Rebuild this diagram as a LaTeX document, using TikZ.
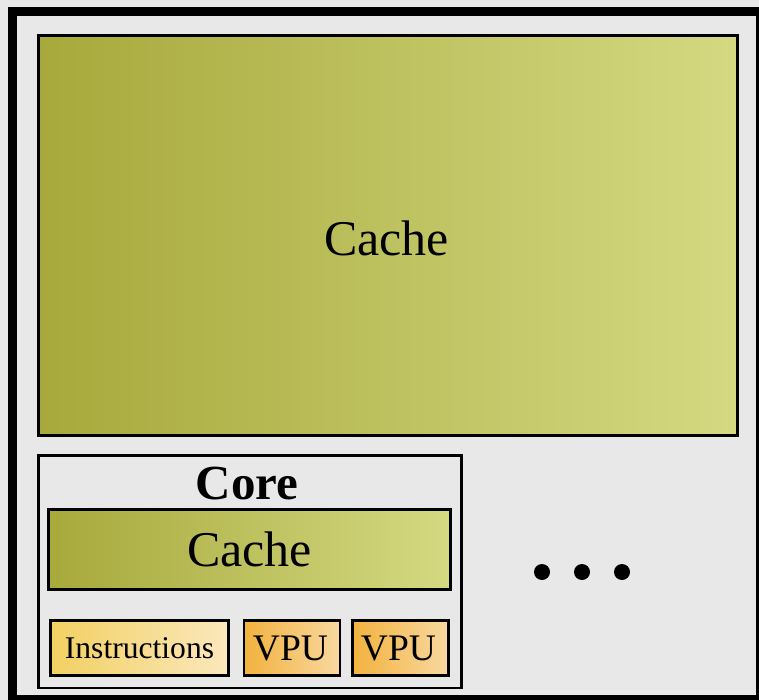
\documentclass[tikz,border=0pt]{standalone}
\usepackage{fontspec}
\setmainfont{Liberation Serif}
\definecolor{bggrey}{HTML}{E8E8E8}
\definecolor{cacheL}{HTML}{A7A93B}
\definecolor{cacheR}{HTML}{D4D982}
\definecolor{instL}{HTML}{F2D062}
\definecolor{instR}{HTML}{FBE8BC}
\definecolor{vpuL}{HTML}{F2B23E}
\definecolor{vpuR}{HTML}{F9D8A0}
\tikzset{
  cachebox/.style={draw=black, line width=2.8pt, left color=cacheL, right color=cacheR, inner sep=0pt, font=\fontsize{50}{56}\selectfont},
  instbox/.style={draw=black, line width=2.8pt, left color=instL, right color=instR, inner sep=0pt, font=\fontsize{31.6}{36}\selectfont},
  vpubox/.style={draw=black, line width=2.8pt, left color=vpuL, right color=vpuR, inner sep=0pt, font=\fontsize{37.5}{42}\selectfont},
  corebox/.style={draw=black, line width=2.5pt, fill=bggrey, inner sep=0pt},
}
\begin{document}
\begin{tikzpicture}[x=1pt,y=-1pt]
\useasboundingbox (0,0) rectangle (759,700);
\clip (0,0) rectangle (759,700);
\fill[bggrey] (0,0) rectangle (759,700);
\draw[line width=9pt] (12.5,11.5) rectangle (760.5,699.5);
\node[cachebox, minimum width=699pt, minimum height=400pt] (bigcache) at (387.75,235.5) {};
\node[font=\fontsize{50}{56}\selectfont] (bigcachetext) at (386.5,238) {Cache};
\node[corebox, minimum width=423pt, minimum height=232.5pt] (core) at (249.75,571.5) {};
\node[font=\bfseries\fontsize{49}{55}\selectfont, inner sep=0pt, anchor=base] (coretext) at (247,499) {Core};
\node[cachebox, minimum width=402pt, minimum height=80pt] (corecache) at (249.5,549.5) {Cache};
\node[instbox, minimum width=178pt, minimum height=55pt] (instr) at (139.5,648) {Instructions};
\node[vpubox, minimum width=96pt, minimum height=55pt] (vpu1) at (292,648) {};
\node[vpubox, minimum width=96pt, minimum height=55pt] (vpu2) at (400.5,648) {};
\node[font=\fontsize{37.5}{42}\selectfont, inner sep=0pt] (vpu1text) at (290.5,648) {VPU};
\node[font=\fontsize{37.5}{42}\selectfont, inner sep=0pt] (vpu2text) at (398.5,648) {VPU};
\fill (542,572) circle (8pt) (582,572) circle (8pt) (622,572) circle (8pt);
\end{tikzpicture}
\end{document}
